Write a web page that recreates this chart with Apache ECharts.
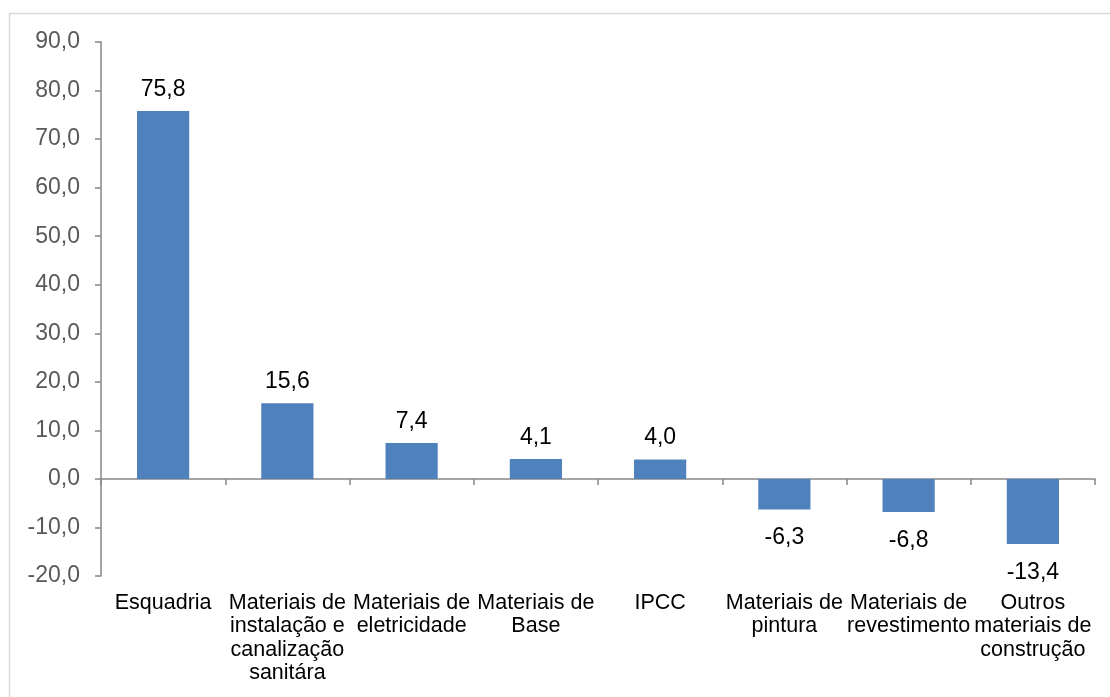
<!DOCTYPE html>
<html>
<head>
<meta charset="utf-8">
<script src="https://cdn.jsdelivr.net/npm/echarts@6/dist/echarts.min.js"></script>
<style>html,body{margin:0;padding:0;background:#fff}#c{width:1110px;height:697px}</style>
</head>
<body>
<div id="c"></div>
<script>
var categories = ["Esquadria", "Materiais de\ninstalação e\ncanalização\nsanitára", "Materiais de\neletricidade", "Materiais de\nBase", "IPCC", "Materiais de\npintura", "Materiais de\nrevestimento", "Outros\nmateriais de\nconstrução"];
var values = [75.8, 15.6, 7.4, 4.1, 4.0, -6.3, -6.8, -13.4];
var yMin = -20, yMax = 90, yStep = 10;

function fmt(v){ return v.toFixed(1).replace('.', ','); }

var chart = echarts.init(document.getElementById('c'), null, {renderer:'canvas'});
var font = 'Liberation Sans, Arial, sans-serif';
chart.setOption({
  animation: false,
  graphic: [{type:'rect', shape:{x:9.5, y:13.5, width:1200, height:800}, style:{fill:'none', stroke:'#d9d9d9', lineWidth:1.5}, silent:true, z:-10}],
  grid: {left:101, right:15, top:42, bottom:121, containLabel:false},
  xAxis: [{
    type:'category', data:categories, position:'bottom',
    axisLine:{show:true, onZero:true, lineStyle:{color:'#868686', width:1.5}},
    axisTick:{show:true, length:6, alignWithLabel:false, lineStyle:{color:'#868686', width:1.5}},
    axisLabel:{show:false}, splitLine:{show:false}
  },{
    type:'category', data:categories, position:'bottom',
    axisLine:{show:false, onZero:false}, axisTick:{show:false},
    axisLabel:{show:true, interval:0, margin:15, color:'#000', fontSize:21.5, lineHeight:23.5, fontFamily:font, align:'center'},
    splitLine:{show:false}
  }],
  yAxis: {
    type:'value', min:yMin, max:yMax, interval:yStep,
    axisLine:{show:true, lineStyle:{color:'#868686', width:1.5}},
    axisTick:{show:true, length:6, lineStyle:{color:'#868686', width:1.5}},
    axisLabel:{formatter:fmt, color:'#595959', fontSize:23, fontFamily:font, margin:21},
    splitLine:{show:false}
  },
  series: [{
    type:'bar', xAxisIndex:0,
    barWidth:'42%',
    itemStyle:{color:'#4F81BD'},
    data: values.map(function(v){
      return {value:v, label:{show:true, position: v>=0 ? 'top' : 'bottom', distance: v>=0 ? 10 : 17, formatter:function(p){return fmt(p.value);}, color:'#000', fontSize:23, fontFamily:font}};
    })
  }]
});
</script>
</body>
</html>
